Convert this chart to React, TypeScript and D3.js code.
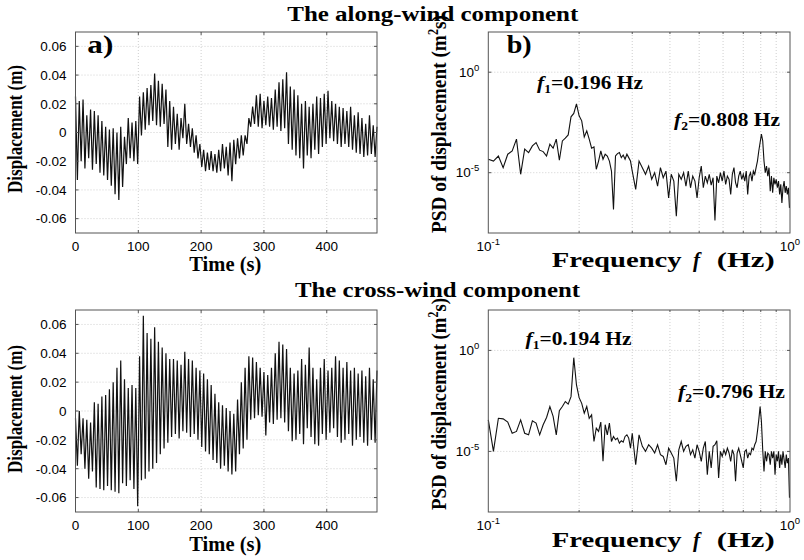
import React from "react";
import * as d3 from "d3";

// ---- time histories (m), one peak and one trough per 6 s cycle ----
const peakTimes = d3.range(0, 481, 6);
const troughTimes = d3.range(3, 480, 6);

const alongPeaks = [
	0.025, 0.022, 0.023, 0.012, 0.016, 0.015, 0.012, 0.008, 0.004, 0.002,
	0.003, 0.0, 0.004, -0.003, 0.01, 0.007, 0.008, 0.025, 0.028, 0.031,
	0.033, 0.041, 0.036, 0.034, 0.03, 0.022, 0.018, 0.013, 0.01, 0.02,
	0.006, 0.003, -0.002, -0.008, -0.012, -0.014, -0.013, -0.015, -0.012, -0.008,
	-0.01, -0.007, -0.005, -0.004, -0.002, -0.002, 0.01, 0.018, 0.026, 0.027,
	0.022, 0.025, 0.024, 0.03, 0.035, 0.037, 0.042, 0.032, 0.03, 0.026,
	0.02, 0.022, 0.018, 0.02, 0.025, 0.024, 0.027, 0.029, 0.022, 0.02,
	0.018, 0.017, 0.015, 0.018, 0.012, 0.014, 0.01, 0.006, 0.012, 0.005,
	0.004,
];
const alongTroughs = [
	-0.033, -0.02, -0.025, -0.018, -0.026, -0.022, -0.028, -0.03, -0.033, -0.037,
	-0.043, -0.047, -0.038, -0.022, -0.018, -0.02, -0.022, -0.002, 0.002, 0.005,
	0.008, 0.005, 0.004, 0.006, -0.01, -0.012, -0.008, -0.012, -0.004, -0.008,
	-0.01, -0.014, -0.018, -0.024, -0.027, -0.026, -0.027, -0.028, -0.027, -0.025,
	-0.03, -0.034, -0.022, -0.018, -0.016, -0.008, 0.004, 0.006, 0.004, 0.003,
	0.005, 0.004, 0.002, 0.004, 0.001, 0.003, -0.008, -0.012, -0.016, -0.018,
	-0.025, -0.016, -0.018, -0.012, -0.015, -0.01, -0.008, -0.004, -0.006, -0.008,
	-0.01, -0.008, -0.01, -0.012, -0.014, -0.015, -0.017, -0.016, -0.015, -0.017,
];
const crossPeaks = [
	-0.005, 0.0, -0.005, -0.006, -0.008, 0.006, 0.005, 0.01, 0.011, 0.015,
	0.02, 0.03, 0.035, 0.022, 0.016, 0.018, 0.016, 0.038, 0.066, 0.054,
	0.05, 0.058, 0.048, 0.044, 0.04, 0.036, 0.036, 0.035, 0.032, 0.041,
	0.036, 0.035, 0.03, 0.028, 0.026, 0.022, 0.018, 0.012, 0.006, 0.004,
	0.002, 0.0, -0.002, 0.008, 0.02, 0.03, 0.038, 0.037, 0.034, 0.03,
	0.027, 0.025, 0.03, 0.04, 0.048, 0.046, 0.043, 0.03, 0.026, 0.028,
	0.036, 0.032, 0.044, 0.03, 0.022, 0.03, 0.036, 0.028, 0.03, 0.038,
	0.035, 0.03, 0.034, 0.028, 0.03, 0.026, 0.028, 0.024, 0.03, 0.022,
	0.028,
];
const crossTroughs = [
	-0.038, -0.03, -0.04, -0.047, -0.042, -0.053, -0.054, -0.055, -0.052, -0.055,
	-0.056, -0.057, -0.05, -0.052, -0.048, -0.054, -0.066, -0.048, -0.047, -0.042,
	-0.04, -0.036, -0.03, -0.026, -0.022, -0.018, -0.016, -0.019, -0.014, -0.015,
	-0.018, -0.016, -0.02, -0.025, -0.028, -0.03, -0.034, -0.036, -0.04, -0.038,
	-0.042, -0.044, -0.042, -0.03, -0.026, -0.02, -0.006, -0.005, -0.003, -0.004,
	-0.017, -0.008, -0.009, -0.006, -0.005, -0.008, -0.014, -0.021, -0.02, -0.016,
	-0.023, -0.012, -0.018, -0.023, -0.024, -0.016, -0.02, -0.015, -0.012, -0.018,
	-0.022, -0.02, -0.016, -0.024, -0.02, -0.018, -0.022, -0.024, -0.02, -0.022,
];

const timeTicks = [0, 100, 200, 300, 400];
const dispTicks = [-0.06, -0.04, -0.02, 0, 0.02, 0.04, 0.06];
const dispTickLabels = ["-0.06", "-0.04", "-0.02", "0", "0.02", "0.04", "0.06"];

// ---- spectra: log10 of PSD (m^2 s) on the frequency bins below ----
const freqLow = d3.range(0, 51).map((i) => +(0.1 + i * 0.004).toFixed(3));
const freqHigh = d3.range(0, 87).map((i) => +(0.308 + i * 0.008).toFixed(3));

const alongPsdLow = [
	-4.33, -4.42, -4.17, -4.75, -4.08, -3.92, -3.33, -5.08, -3.83, -4.0,
	-3.67, -3.5, -3.88, -3.95, -4.17, -3.58, -3.78, -3.33, -4.38, -3.42,
	-3.28, -3.12, -2.22, -2.05, -1.58, -2.17, -2.42, -3.22, -2.92, -3.33,
	-3.78, -3.72, -4.83, -4.42, -3.92, -4.33, -4.08, -4.17, -4.42, -4.92,
	-6.83, -4.17, -4.05, -4.0, -4.25, -4.12, -4.33, -4.08, -4.25, -4.42,
	-4.92,
];
const alongPsdHigh = [
	-5.83, -4.42, -4.75, -5.08, -4.67, -5.33, -5.0, -5.67, -4.75, -5.25,
	-4.92, -6.25, -5.08, -5.42, -7.17, -5.08, -5.33, -5.0, -5.67, -4.92,
	-5.75, -5.17, -5.42, -6.25, -5.25, -4.67, -5.75, -5.17, -5.5, -5.08,
	-5.62, -5.25, -7.38, -5.17, -5.5, -5.0, -5.42, -4.92, -5.58, -5.17,
	-5.33, -6.08, -5.08, -4.75, -5.5, -5.75, -5.17, -4.92, -5.33, -5.08,
	-5.42, -4.92, -6.08, -5.17, -5.0, -5.42, -4.92, -5.08, -4.75, -4.42,
	-3.92, -3.5, -3.08, -3.42, -4.42, -5.0, -4.67, -5.17, -4.75, -5.92,
	-5.17, -6.0, -5.25, -5.58, -5.33, -5.75, -5.42, -6.08, -5.58, -6.5,
	-5.75, -5.42, -6.0, -5.67, -6.08, -5.75, -6.75,
];
const crossPsdLow = [
	-3.44, -5.0, -3.36, -3.39, -3.55, -4.1, -4.01, -3.44, -4.1, -4.18,
	-3.49, -3.6, -4.18, -3.68, -3.32, -2.78, -3.27, -4.18, -2.99, -2.78,
	-2.53, -2.66, -2.29, -0.36, -1.71, -2.34, -2.62, -3.11, -2.78, -3.36,
	-3.19, -4.51, -3.85, -4.01, -3.55, -5.49, -3.68, -4.18, -3.6, -4.51,
	-4.26, -4.42, -4.34, -4.59, -4.47, -4.54, -4.26, -4.18, -4.34, -4.84,
	-4.1,
];
const crossPsdHigh = [
	-5.66, -4.18, -4.75, -5.0, -4.67, -4.84, -5.08, -4.67, -5.16, -5.25,
	-5.66, -4.84, -5.08, -5.33, -6.48, -4.92, -4.51, -5.0, -4.75, -4.67,
	-5.16, -4.92, -5.33, -4.67, -5.0, -5.49, -4.84, -4.51, -6.15, -5.0,
	-5.82, -4.75, -4.67, -4.47, -6.32, -5.0, -5.25, -4.92, -5.16, -4.84,
	-5.08, -5.49, -4.92, -5.16, -6.48, -5.08, -4.84, -5.16, -5.49, -5.82,
	-5.0, -4.92, -5.33, -5.08, -5.16, -4.84, -4.92, -4.67, -4.51, -4.01,
	-3.44, -2.78, -3.52, -4.92, -5.99, -5.0, -5.49, -5.08, -5.16, -5.66,
	-5.0, -5.33, -5.0, -6.15, -5.16, -5.49, -5.0, -5.82, -5.16, -5.66,
	-5.0, -5.41, -5.82, -5.16, -5.58, -5.33, -7.3,
];

const freqGrid = [0.2, 0.3, 0.4, 0.5, 0.6, 0.7, 0.8, 0.9];
const freqTicks = [0.1, 1];
const freqTickExp = ["-1", "0"];
const psdTicks = [1e-5, 1];
const psdTickExp = ["-5", "0"];

const SANS = "'Liberation Sans', Arial, sans-serif";
const SERIF = "'Liberation Serif', 'Times New Roman', serif";
const GRID = "#cfcfcf";
const BOX = "#555";

const LEFT_X: [number, number] = [75.5, 377];
const RIGHT_X: [number, number] = [488.3, 790];

type TimeProps = { peaks: number[]; troughs: number[]; top: number; bottom: number };

function TimePanel({ peaks, troughs, top, bottom }: TimeProps) {
	const [l, r] = LEFT_X;
	const x = d3.scaleLinear().domain([0, 480]).range([l, r]);
	const y = d3.scaleLinear().domain([-0.07, 0.07]).range([bottom, top]);
	const pts: [number, number][] = [];
	peaks.forEach((v, i) => {
		pts.push([peakTimes[i], v]);
		if (i < troughs.length) pts.push([troughTimes[i], troughs[i]]);
	});
	const line = d3
		.line<[number, number]>()
		.x((d) => x(d[0]))
		.y((d) => y(d[1]));
	return (
		<g>
			<rect x={l} y={top} width={r - l} height={bottom - top} fill="#fff" />
			{timeTicks.slice(1).map((t) => (
				<line key={t} x1={x(t)} x2={x(t)} y1={top} y2={bottom} stroke={GRID} strokeDasharray="1 2" />
			))}
			{dispTicks.map((v) => (
				<line key={v} x1={l} x2={r} y1={y(v)} y2={y(v)} stroke={GRID} strokeDasharray="1 2" />
			))}
			<path d={line(pts) || ""} fill="none" stroke="#111" strokeWidth={1.2} />
			<rect x={l} y={top} width={r - l} height={bottom - top} fill="none" stroke={BOX} />
			{timeTicks.map((t) => (
				<g key={t}>
					<line x1={x(t)} x2={x(t)} y1={bottom} y2={bottom - 3} stroke={BOX} />
					<line x1={x(t)} x2={x(t)} y1={top} y2={top + 3} stroke={BOX} />
					<text x={x(t)} y={bottom + 18} textAnchor="middle" fontFamily={SANS} fontSize={13.5}>
						{t}
					</text>
				</g>
			))}
			{dispTicks.map((v, i) => (
				<g key={v}>
					<line x1={l} x2={l + 3} y1={y(v)} y2={y(v)} stroke={BOX} />
					<line x1={r} x2={r - 3} y1={y(v)} y2={y(v)} stroke={BOX} />
					<text x={l - 9} y={y(v) + 4.8} textAnchor="end" fontFamily={SANS} fontSize={13.5}>
						{dispTickLabels[i]}
					</text>
				</g>
			))}
		</g>
	);
}

type PsdProps = { low: number[]; high: number[]; top: number; bottom: number };

function PsdPanel({ low, high, top, bottom }: PsdProps) {
	const [l, r] = RIGHT_X;
	const x = d3.scaleLog().domain([0.1, 1]).range([l, r]);
	const y = d3.scaleLog().domain([1e-8, 1e2]).range([bottom, top]);
	const pts: [number, number][] = [
		...low.map((e, i) => [freqLow[i], Math.pow(10, e)] as [number, number]),
		...high.map((e, i) => [freqHigh[i], Math.pow(10, e)] as [number, number]),
	];
	const line = d3
		.line<[number, number]>()
		.x((d) => x(d[0]))
		.y((d) => y(d[1]));
	return (
		<g>
			<rect x={l} y={top} width={r - l} height={bottom - top} fill="#fff" />
			{freqGrid.map((f) => (
				<line key={f} x1={x(f)} x2={x(f)} y1={top} y2={bottom} stroke={GRID} strokeDasharray="1 2" />
			))}
			{psdTicks.map((v) => (
				<line key={v} x1={l} x2={r} y1={y(v)} y2={y(v)} stroke={GRID} strokeDasharray="1 2" />
			))}
			<path d={line(pts) || ""} fill="none" stroke="#111" strokeWidth={1.1} />
			<rect x={l} y={top} width={r - l} height={bottom - top} fill="none" stroke={BOX} />
			{freqGrid.map((f) => (
				<g key={f}>
					<line x1={x(f)} x2={x(f)} y1={bottom} y2={bottom - 2} stroke={BOX} />
					<line x1={x(f)} x2={x(f)} y1={top} y2={top + 2} stroke={BOX} />
				</g>
			))}
			{freqTicks.map((f, i) => (
				<text key={f} x={x(f)} y={bottom + 18} textAnchor="middle" fontFamily={SANS} fontSize={13.5}>
					10
					<tspan dy={-6} fontSize={9.5}>
						{freqTickExp[i]}
					</tspan>
				</text>
			))}
			{psdTicks.map((v, i) => (
				<g key={v}>
					<line x1={l} x2={l + 3} y1={y(v)} y2={y(v)} stroke={BOX} />
					<line x1={r} x2={r - 3} y1={y(v)} y2={y(v)} stroke={BOX} />
					<text x={l - 9} y={y(v) + 4.5} textAnchor="end" fontFamily={SANS} fontSize={13.5}>
						10
						<tspan dy={-6} fontSize={9.5}>
							{psdTickExp[i]}
						</tspan>
					</text>
				</g>
			))}
		</g>
	);
}

function Peak({ x, y, n, label, len }: { x: number; y: number; n: string; label: string; len: number }) {
	return (
		<text x={x} y={y} fontFamily={SERIF} fontWeight="bold" fontSize={19} textLength={len} lengthAdjust="spacingAndGlyphs">
			<tspan fontStyle="italic">f</tspan>
			<tspan dy={4} fontSize={12}>
				{n}
			</tspan>
			<tspan dy={-4}>{label}</tspan>
		</text>
	);
}

export default function App() {
	const serifBold = { fontFamily: SERIF, fontWeight: "bold" as const };
	const stretch = { textLength: undefined, lengthAdjust: "spacingAndGlyphs" };
	return (
		<svg width={804} height={560} style={{ display: "block", position: "absolute", left: 0, top: 0 }}>
			<rect width={804} height={560} fill="#fff" />

			<text x={287.3} y={20.7} fontSize={20} textLength={291} lengthAdjust="spacingAndGlyphs" {...serifBold}>
				The along-wind component
			</text>
			<text x={295} y={297.3} fontSize={20} textLength={285} lengthAdjust="spacingAndGlyphs" {...serifBold}>
				The cross-wind component
			</text>

			<TimePanel peaks={alongPeaks} troughs={alongTroughs} top={32} bottom={233} />
			<TimePanel peaks={crossPeaks} troughs={crossTroughs} top={310} bottom={512} />
			<PsdPanel low={alongPsdLow} high={alongPsdHigh} top={32} bottom={233} />
			<PsdPanel low={crossPsdLow} high={crossPsdHigh} top={310} bottom={512} />

			<text x={87.3} y={53.3} fontSize={25} textLength={26} lengthAdjust="spacingAndGlyphs" {...serifBold}>
				a)
			</text>
			<text x={506.7} y={53.3} fontSize={25} textLength={25} lengthAdjust="spacingAndGlyphs" {...serifBold}>
				b)
			</text>

			<Peak x={537} y={89} n="1" label="=0.196 Hz" len={106} />
			<Peak x={674} y={125.5} n="2" label="=0.808 Hz" len={106} />
			<Peak x={525.5} y={345} n="1" label="=0.194 Hz" len={106} />
			<Peak x={678} y={398} n="2" label="=0.796 Hz" len={107} />

			{[129, 409].map((cy) => (
				<text
					key={cy}
					transform={`translate(22,${cy}) rotate(-90) scale(1,1.2)`}
					textAnchor="middle"
					fontSize={18}
					textLength={128}
					lengthAdjust="spacingAndGlyphs"
					{...serifBold}
				>
					Displacement (m)
				</text>
			))}
			{[
				[124, 218],
				[404, 212],
			].map(([cy, len]) => (
				<text
					key={cy}
					transform={`translate(446,${cy}) rotate(-90) scale(1,1.15)`}
					textAnchor="middle"
					fontSize={19}
					textLength={len}
					lengthAdjust="spacingAndGlyphs"
					{...serifBold}
				>
					PSD of displacement (m
					<tspan dy={-7} fontSize={12}>
						2
					</tspan>
					<tspan dy={7}>s)</tspan>
				</text>
			))}

			{[270.7, 550.7].map((by) => (
				<text key={by} x={189.3} y={by} fontSize={20} textLength={72} lengthAdjust="spacingAndGlyphs" {...serifBold}>
					Time (s)
				</text>
			))}
			{[266.7, 546.7].map((by) => (
				<g key={by} {...serifBold} fontSize={21}>
					<text x={551.7} y={by} textLength={130} lengthAdjust={stretch.lengthAdjust}>
						Frequency
					</text>
					<text x={693} y={by} fontStyle="italic">
						f
					</text>
					<text x={716.7} y={by} textLength={58} lengthAdjust={stretch.lengthAdjust}>
						(Hz)
					</text>
				</g>
			))}
		</svg>
	);
}
